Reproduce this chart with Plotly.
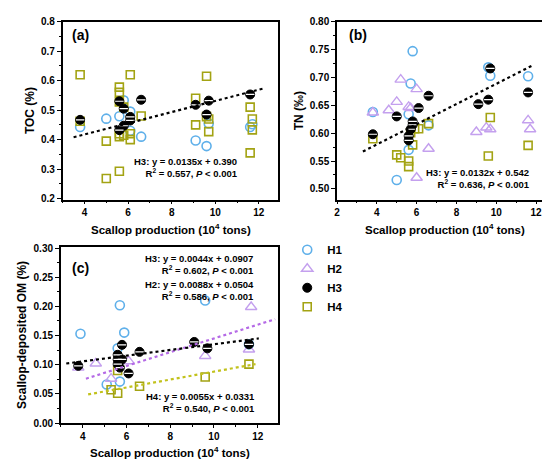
import plotly.graph_objects as go

# ---- panel (a): TOC (%) ----
a_h1_x = [3.8, 5.0, 5.6, 5.8, 6.1, 6.1, 6.6, 9.1, 9.6, 9.7, 11.6, 11.7]
a_h1_y = [0.443, 0.471, 0.479, 0.533, 0.495, 0.430, 0.410, 0.397, 0.378, 0.455, 0.443, 0.452]
a_h3_x = [3.8, 5.6, 5.6, 5.8, 5.8, 6.1, 6.1, 6.6, 9.1, 9.6, 9.7, 11.6]
a_h3_y = [0.467, 0.432, 0.530, 0.505, 0.447, 0.477, 0.465, 0.535, 0.518, 0.485, 0.532, 0.553]
a_h4_x = [3.8, 3.8, 5.0, 5.0, 5.6, 5.6, 5.6, 5.6, 5.6, 5.6, 5.8, 5.8, 6.1, 6.1, 6.1,
          6.6, 9.1, 9.1, 9.6, 9.6, 9.7, 9.7, 11.6, 11.6, 11.7, 11.7]
a_h4_y = [0.620, 0.462, 0.395, 0.268, 0.578, 0.560, 0.528, 0.420, 0.410, 0.293, 0.510, 0.415,
          0.620, 0.420, 0.400, 0.480, 0.540, 0.450, 0.615, 0.478, 0.470, 0.427, 0.510, 0.355,
          0.470, 0.433]
a_fit_x = [3.5, 12.2]
a_fit_y = [0.408, 0.573]

# ---- panel (b): TN (‰) ----
b_h1_x = [3.8, 5.0, 5.6, 5.6, 5.7, 5.8, 6.6, 9.6, 9.7, 11.6]
b_h1_y = [0.638, 0.516, 0.634, 0.570, 0.689, 0.747, 0.614, 0.718, 0.703, 0.702]
b_h2_x = [3.8, 4.6, 5.0, 5.2, 5.6, 5.7, 6.0, 6.0, 6.6, 9.0, 9.5, 9.7, 11.6, 11.7]
b_h2_y = [0.637, 0.641, 0.656, 0.696, 0.647, 0.645, 0.679, 0.520, 0.572, 0.602, 0.610, 0.607,
          0.623, 0.607]
b_h3_x = [3.8, 5.0, 5.6, 5.6, 5.8, 5.8, 5.7, 6.1, 6.6, 9.1, 9.6, 9.7, 11.6]
b_h3_y = [0.598, 0.630, 0.595, 0.587, 0.621, 0.615, 0.607, 0.645, 0.667, 0.652, 0.660, 0.716, 0.673]
b_h4_x = [3.8, 5.0, 5.2, 5.6, 5.6, 5.8, 5.7, 5.9, 6.1, 6.6, 9.6, 9.7, 11.6]
b_h4_y = [0.590, 0.561, 0.556, 0.550, 0.540, 0.579, 0.601, 0.608, 0.608, 0.617, 0.559, 0.628, 0.578]
b_fit_x = [3.3, 11.8]
b_fit_y = [0.567, 0.721]

# ---- panel (c): Scallop-deposited OM (%) ----
c_h1_x = [3.9, 5.1, 5.6, 5.7, 5.7, 5.9, 9.6, 11.6]
c_h1_y = [0.153, 0.066, 0.128, 0.202, 0.071, 0.155, 0.210, 0.135]
c_h2_x = [3.8, 4.6, 5.3, 6.1, 9.6, 11.7, 11.6]
c_h2_y = [0.095, 0.102, 0.076, 0.106, 0.115, 0.199, 0.126]
c_h3_x = [3.8, 5.6, 5.6, 5.6, 5.7, 5.8, 5.8, 6.1, 6.6, 9.1, 9.7, 11.6]
c_h3_y = [0.098, 0.117, 0.109, 0.101, 0.095, 0.109, 0.134, 0.085, 0.122, 0.139, 0.128, 0.135]
c_h4_x = [5.3, 5.6, 5.6, 6.6, 9.6, 11.6]
c_h4_y = [0.057, 0.051, 0.090, 0.063, 0.079, 0.101]
c_fit_h3_x = [3.25, 12.05]
c_fit_h3_y = [0.102, 0.145]
c_fit_h2_x = [4.15, 12.8]
c_fit_h2_y = [0.076, 0.178]
c_fit_h4_x = [4.25, 11.9]
c_fit_h4_y = [0.049, 0.101]

BLUE = '#5fb0ea'
PURPLE = '#c4a0ee'
PURPLE_LINE = '#b56ae6'
OLIVE = '#a3a313'
OLIVE_LINE = '#c2c21c'
FONT = 'Liberation Sans'

fig = go.Figure()


def add_group(xs, ys, ax, name, legend):
    """One sample group (H1..H4) on one panel"""
    xa, ya = ax
    if name == 'H1':
        m = dict(symbol='circle-open', size=9, color=BLUE, line=dict(width=1.6, color=BLUE))
    elif name == 'H2':
        m = dict(symbol='triangle-up-open', size=10, color=PURPLE, line=dict(width=1.4, color=PURPLE))
    elif name == 'H3':
        m = dict(symbol='circle', size=9, color='black', line=dict(width=1, color='black'))
    else:
        m = dict(symbol='square-open', size=8, color=OLIVE, line=dict(width=1.6, color=OLIVE))
    fig.add_trace(go.Scatter(x=xs, y=ys, mode='markers', name='<b>' + name + '</b>', marker=m,
                             xaxis=xa, yaxis=ya, showlegend=legend,
                             legendrank={'H1': 1, 'H2': 2, 'H3': 3, 'H4': 4}[name]))
    if name == 'H3':
        # white stripe to mimic the half-filled circle
        fig.add_trace(go.Scatter(x=xs, y=ys, mode='markers', hoverinfo='skip',
                                 marker=dict(symbol='line-ew', size=6, line=dict(width=1.2, color='white')),
                                 xaxis=xa, yaxis=ya, showlegend=False))


def add_fit(xs, ys, ax, color):
    fig.add_trace(go.Scatter(x=xs, y=ys, mode='lines', line=dict(color=color, width=2.2, dash='dot'),
                             xaxis=ax[0], yaxis=ax[1], showlegend=False, hoverinfo='skip'))


A = ('x', 'y')
B = ('x2', 'y2')
C = ('x3', 'y3')

# panel a
add_group(a_h1_x, a_h1_y, A, 'H1', True)
add_group(a_h4_x, a_h4_y, A, 'H4', True)
add_group(a_h3_x, a_h3_y, A, 'H3', True)
add_fit(a_fit_x, a_fit_y, A, 'black')

# panel b
add_group(b_h1_x, b_h1_y, B, 'H1', False)
add_group(b_h2_x, b_h2_y, B, 'H2', True)
add_group(b_h4_x, b_h4_y, B, 'H4', False)
add_group(b_h3_x, b_h3_y, B, 'H3', False)
add_fit(b_fit_x, b_fit_y, B, 'black')

# panel c
add_group(c_h1_x, c_h1_y, C, 'H1', False)
add_group(c_h2_x, c_h2_y, C, 'H2', False)
add_group(c_h4_x, c_h4_y, C, 'H4', False)
add_group(c_h3_x, c_h3_y, C, 'H3', False)
add_fit(c_fit_h2_x, c_fit_h2_y, C, PURPLE_LINE)
add_fit(c_fit_h4_x, c_fit_h4_y, C, OLIVE_LINE)
add_fit(c_fit_h3_x, c_fit_h3_y, C, 'black')

tickfont = dict(family=FONT, size=10, color='black', weight='bold')
titlefont = dict(family=FONT, size=12, color='black')
xtitlefont = dict(family=FONT, size=11.5, color='black')
xtitle = 'Scallop production (10<sup>4</sup> tons)'


def xaxis(domain, rng, tickvals, anchor):
    return dict(domain=domain, range=rng, tickvals=tickvals, anchor=anchor,
                showline=True, mirror=True, linecolor='black', linewidth=1.5,
                ticks='outside', ticklen=3, tickwidth=1.2, tickcolor='black',
                minor=dict(dtick=1, ticks='outside', ticklen=2, tickwidth=1, tickcolor='black'),
                showgrid=False, zeroline=False, tickfont=tickfont)


def yaxis(domain, rng, dtick, fmt, anchor, title):
    return dict(domain=domain, range=rng, dtick=dtick, tickformat=fmt, anchor=anchor,
                showline=True, mirror=True, linecolor='black', linewidth=1.5,
                ticks='outside', ticklen=4, tickwidth=1.2, tickcolor='black',
                minor=dict(dtick=dtick / 2, ticks='outside', ticklen=2, tickwidth=1, tickcolor='black'),
                showgrid=False, zeroline=False, tickfont=tickfont,
                title=dict(text='<b>' + title + '</b>', font=titlefont, standoff=4))


top = [0.585, 0.983]
bottom = [0.085, 0.479]
fig.update_layout(
    xaxis=xaxis([0.0945, 0.489], [3.0, 12.9], [4, 6, 8, 10, 12], 'y'),
    yaxis=yaxis(top, [0.197, 0.8], 0.1, '.1f', 'x', 'TOC (%)'),
    xaxis2=xaxis([0.596, 0.989], [2.0, 12.8], [2, 4, 6, 8, 10, 12], 'y2'),
    yaxis2=yaxis(top, [0.481, 0.80], 0.05, '.2f', 'x2', 'TN (‰)'),
    xaxis3=xaxis([0.091, 0.489], [3.0, 12.95], [4, 6, 8, 10, 12], 'y3'),
    yaxis3=yaxis(bottom, [0.0, 0.302], 0.05, '.2f', 'x3', 'Scallop-deposited OM (%)'),
    width=550, height=459,
    margin=dict(l=0, r=0, t=0, b=0),
    paper_bgcolor='white', plot_bgcolor='white',
    font=dict(family=FONT, color='black'),
    legend=dict(x=0.505, y=0.505, xanchor='left', yanchor='top',
                font=dict(family=FONT, size=11.5, color='black'),
                itemwidth=30, tracegroupgap=0, bgcolor='rgba(0,0,0,0)'),
)

# x-axis titles placed as text under each panel
for x, y in [(0.292, 0.518), (0.793, 0.518), (0.29, 0.0196)]:
    fig.add_annotation(x=x, y=y, xref='paper', yref='paper', xanchor='center', yanchor='middle',
                       text='<b>' + xtitle + '</b>', showarrow=False, font=xtitlefont)

ann_font = dict(family=FONT, size=9.5, color='black')
notes = [
    (0.418, 0.656, 'H3: y = 0.0135x + 0.390<br>R<sup>2</sup> = 0.557, <i>P</i> < 0.001'),
    (0.953, 0.633, 'H3: y = 0.0132x + 0.542<br>R<sup>2</sup> = 0.636, <i>P</i> < 0.001'),
    (0.447, 0.439, 'H3: y = 0.0044x + 0.0907<br>R<sup>2</sup> = 0.602, <i>P</i> < 0.001'),
    (0.447, 0.382, 'H2: y = 0.0088x + 0.0504<br>R<sup>2</sup> = 0.586, <i>P</i> < 0.001'),
    (0.449, 0.130, 'H4: y = 0.0055x + 0.0331<br>R<sup>2</sup> = 0.540, <i>P</i> < 0.001'),
]
for x, y, t in notes:
    fig.add_annotation(x=x, y=y, xref='paper', yref='paper', xanchor='right', yanchor='middle',
                       text='<b>' + t + '</b>', align='right', showarrow=False, font=ann_font)

panel_labels = [(0.108, 0.952, '(a)'), (0.614, 0.952, '(b)'), (0.108, 0.431, '(c)')]
for x, y, t in panel_labels:
    fig.add_annotation(x=x, y=y, xref='paper', yref='paper', xanchor='left', yanchor='middle',
                       text='<b>' + t + '</b>', showarrow=False,
                       font=dict(family=FONT, size=14, color='black'))

fig.write_html("out.html")
